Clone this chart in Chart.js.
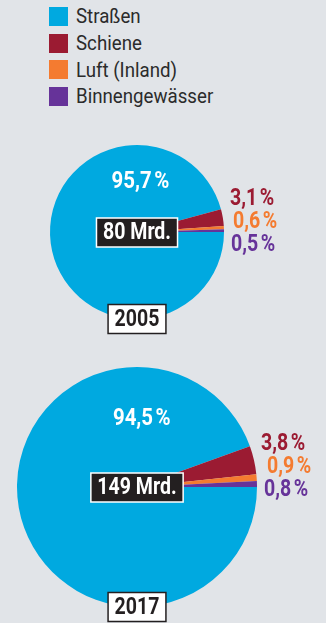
<!DOCTYPE html>
<html>
<head>
<meta charset="utf-8">
<script src="https://cdn.jsdelivr.net/npm/chart.js@4"></script>
<style>
  html, body { margin: 0; padding: 0; background: #e1e4e8; }
  body { width: 326px; height: 623px; position: relative; overflow: hidden; font-family: Roboto, "Noto Sans", sans-serif; }
  #legend { position: absolute; left: 49px; top: 3px; }
  .item { display: flex; align-items: center; height: 26.7px; font-size: 21px; color: #2b2b2b; }
  .item span.name { display: inline-block; transform: scaleX(0.89); transform-origin: left center; white-space: nowrap; }
  .swatch { width: 19px; height: 19px; margin-right: 8px; flex: none; }
  canvas { position: absolute; left: 0; }
</style>
</head>
<body>
<div id="legend"></div>
<canvas id="pie2005" width="326" height="210" style="top:130px"></canvas>
<canvas id="pie2017" width="326" height="273" style="top:350px"></canvas>
<script>
// Transport modes and their colours
const categories = ['Straßen', 'Schiene', 'Luft (Inland)', 'Binnengewässer'];
const colors = ['#00a9e0', '#9b1b32', '#f47b30', '#663399'];

// Years and totals
const years = ['2005', '2017'];
const totals = ['80 Mrd.', '149 Mrd.'];

// Shares per year in percent
const shares2005 = [95.7, 3.1, 0.6, 0.5];
const shares2017 = [94.5, 3.8, 0.9, 0.8];

const CONDENSE = 0.85;

// Legend
const legend = document.getElementById('legend');
categories.forEach((name, i) => {
  const row = document.createElement('div');
  row.className = 'item';
  const sw = document.createElement('span');
  sw.className = 'swatch';
  sw.style.background = colors[i];
  const txt = document.createElement('span');
  txt.className = 'name';
  txt.textContent = name;
  row.appendChild(sw);
  row.appendChild(txt);
  legend.appendChild(row);
});

const fmt = v => v.toFixed(1).replace('.', ',') + '\u202F%';

// Bold text squeezed horizontally to get a condensed look
function condensedText(ctx, text, x, y) {
  ctx.save();
  ctx.translate(x, y);
  ctx.scale(CONDENSE, 1);
  ctx.fillText(text, 0, 0);
  ctx.restore();
}

function drawBox(ctx, text, x, y, fill, stroke, color) {
  ctx.font = 'bold 23px Roboto';
  const w = ctx.measureText(text).width * CONDENSE + 13;
  const h = 29;
  ctx.fillStyle = fill;
  ctx.fillRect(x - w / 2, y - h / 2, w, h);
  ctx.lineWidth = 1.5;
  ctx.strokeStyle = stroke;
  ctx.strokeRect(x - w / 2, y - h / 2, w, h);
  ctx.fillStyle = color;
  ctx.textAlign = 'center';
  ctx.textBaseline = 'middle';
  condensedText(ctx, text, x, y + 1);
}

// Percent labels, total in the centre and year at the bottom of each pie
const sliceLabels = {
  id: 'sliceLabels',
  afterDatasetsDraw(chart, args, opts) {
    const ctx = chart.ctx;
    const arc = chart.getDatasetMeta(0).data[0];
    const cx = arc.x, cy = arc.y, r = arc.outerRadius;
    const vals = chart.data.datasets[0].data;
    ctx.save();
    ctx.textBaseline = 'middle';
    ctx.textAlign = 'center';
    ctx.font = 'bold 24px Roboto';
    ctx.fillStyle = '#ffffff';
    condensedText(ctx, fmt(vals[0]), cx + 0.04 * r, cy - 0.57 * r);
    ctx.textAlign = 'left';
    ctx.font = 'bold 23px Roboto';
    for (let i = 1; i < vals.length; i++) {
      ctx.fillStyle = colors[i];
      condensedText(ctx, fmt(vals[i]), cx + r + opts.gap + opts.indent[i - 1], cy + opts.top + (i - 1) * 23);
    }
    drawBox(ctx, opts.total, cx, cy + 0.5, '#231f20', '#ffffff', '#ffffff');
    drawBox(ctx, opts.year, cx, cy + r, '#ffffff', '#231f20', '#231f20');
    ctx.restore();
  }
};

function makePie(id, values, padding, labelOpts) {
  return new Chart(document.getElementById(id), {
    type: 'pie',
    data: {
      labels: categories,
      datasets: [{
        data: values,
        backgroundColor: colors,
        borderWidth: 0,
        hoverOffset: 0,
        offset: 0
      }]
    },
    options: {
      responsive: false,
      animation: false,
      events: [],
      rotation: 90,
      layout: { padding },
      plugins: {
        legend: { display: false },
        tooltip: { enabled: false },
        sliceLabels: labelOpts
      }
    },
    plugins: [sliceLabels]
  });
}

makePie('pie2005', shares2005, { left: 50, right: 102, top: 15, bottom: 21 },
  { total: totals[0], year: years[0], gap: 6, top: -33, indent: [0, 3, 1] });
makePie('pie2017', shares2017, { left: 17, right: 69, top: 17, bottom: 16 },
  { total: totals[1], year: years[1], gap: 4, top: -42.5, indent: [0, 6, 3] });
</script>
</body>
</html>
